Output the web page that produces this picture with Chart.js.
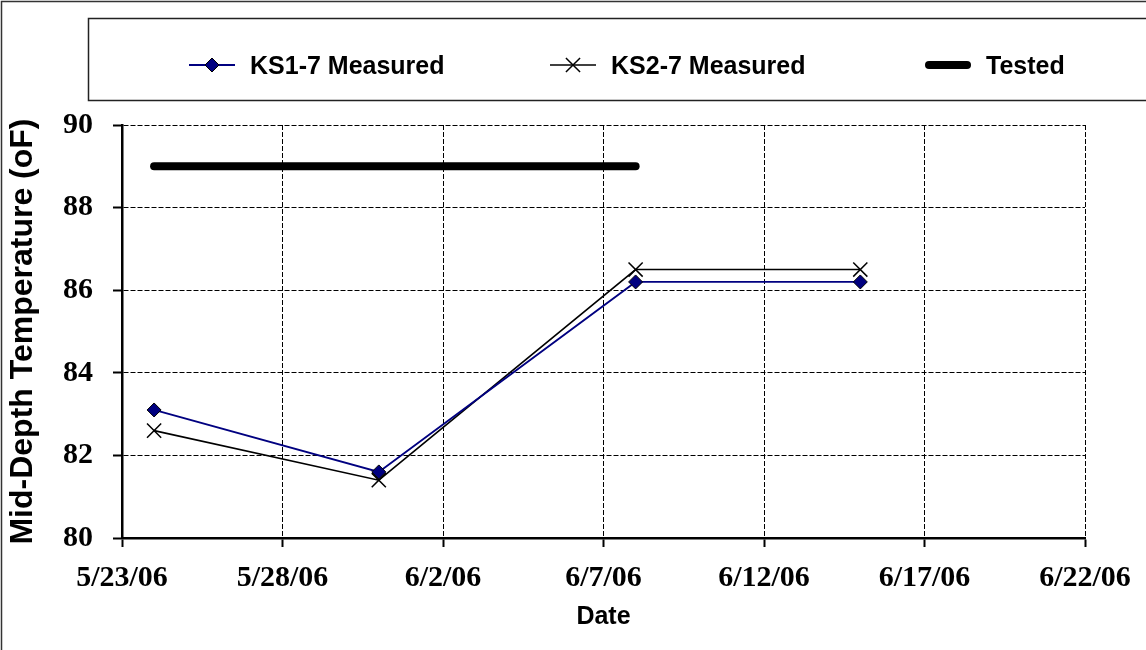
<!DOCTYPE html>
<html><head><meta charset="utf-8">
<script src="https://cdn.jsdelivr.net/npm/chart.js@4/dist/chart.umd.min.js"></script>
<style>html,body{margin:0;padding:0;background:#fff;overflow:hidden}#wrap{width:1146px;height:650px}</style>
</head><body>
<div id="wrap"><canvas id="c" width="1146" height="650"></canvas></div>
<script>
// ---- data ----
const baseDate = '5/23/06';
const seriesNames = ['KS1-7 Measured', 'KS2-7 Measured', 'Tested'];
const measuredDates = ['5/24/06', '5/31/06', '6/8/06', '6/15/06'];
const ks1Measured = [83.1, 81.6, 86.2, 86.2];
const ks2Measured = [82.6, 81.4, 86.5, 86.5];
const testedDates = ['5/24/06', '6/8/06'];
const testedValues = [89, 89];
const xTickDates = ['5/23/06','5/28/06','6/2/06','6/7/06','6/12/06','6/17/06','6/22/06'];
const yTickValues = [80, 82, 84, 86, 88, 90];
const xTitle = 'Date';
const yTitle = 'Mid-Depth Temperature (oF)';

// ---- helpers ----
function dayNum(s){const p=s.split('/').map(Number);return Date.UTC(2000+p[2],p[0]-1,p[1])/86400000;}
const base = dayNum(baseDate);
const toX = s => dayNum(s) - base;
const xTickVals = xTickDates.map(toX);
function fmtDay(v){const d=new Date((base+v)*86400000);return (d.getUTCMonth()+1)+'/'+d.getUTCDate()+'/'+String(d.getUTCFullYear()).slice(2);}
const pts = (ds, vs) => ds.map((d,i)=>({x:toX(d), y:vs[i]}));

const sansBold = (s)=>({family:'"Liberation Sans", Arial, sans-serif', size:s, weight:'bold'});
const serifBold = (s)=>({family:'"Liberation Serif", "Times New Roman", serif', size:s, weight:'bold'});

const bgPlugin = {
  id:'bg',
  beforeDraw(chart){const c=chart.ctx;c.save();c.fillStyle='#fff';c.fillRect(0,0,chart.width,chart.height);c.restore();}
};

const legendPlugin = {
  id:'customLegend',
  afterDraw(chart){
    const c = chart.ctx;
    c.save();
    // outer frame
    c.strokeStyle = '#333'; c.lineWidth = 1.5;
    c.strokeRect(1.5, 1.5, 1160, 670);
    // legend box
    c.strokeStyle = '#222'; c.lineWidth = 1.5;
    c.strokeRect(88.5, 18.5, 1100, 82);
    const starts = [189, 550, 925];
    const sampleLen = 46;
    const yMid = 65;
    chart.data.datasets.forEach((ds, i) => {
      const x0 = starts[i], x1 = x0 + sampleLen, xm = (x0 + x1) / 2;
      c.beginPath();
      c.lineCap = ds.borderCapStyle || 'butt';
      c.strokeStyle = ds.borderColor; c.lineWidth = ds.borderWidth;
      c.moveTo(x0 + (ds.borderCapStyle==='round'?ds.borderWidth/2:0), yMid);
      c.lineTo(x1 - (ds.borderCapStyle==='round'?ds.borderWidth/2:0), yMid);
      c.stroke();
      c.lineCap = 'butt';
      if (ds.pointStyle === 'rectRot') {
        const r = ds.pointRadius;
        c.beginPath();
        c.moveTo(xm - r, yMid); c.lineTo(xm, yMid - r); c.lineTo(xm + r, yMid); c.lineTo(xm, yMid + r); c.closePath();
        c.fillStyle = ds.pointBackgroundColor; c.fill();
        c.strokeStyle = ds.pointBorderColor; c.lineWidth = ds.pointBorderWidth; c.stroke();
      } else if (ds.pointStyle === 'crossRot') {
        const r = ds.pointRadius * Math.SQRT1_2;
        c.beginPath();
        c.moveTo(xm - r, yMid - r); c.lineTo(xm + r, yMid + r);
        c.moveTo(xm - r, yMid + r); c.lineTo(xm + r, yMid - r);
        c.strokeStyle = ds.pointBorderColor; c.lineWidth = ds.pointBorderWidth; c.stroke();
      }
      c.fillStyle = '#000';
      c.font = 'bold 25px "Liberation Sans", Arial, sans-serif';
      c.textBaseline = 'middle'; c.textAlign = 'left';
      c.fillText(ds.label, x1 + 15, yMid + 2);
    });
    c.restore();
  }
};

new Chart(document.getElementById('c'), {
  type: 'line',
  data: {
    datasets: [
      {
        label: seriesNames[0], data: pts(measuredDates, ks1Measured),
        borderColor: '#000080', borderWidth: 1.8,
        pointStyle: 'rectRot', pointRadius: 7, pointBackgroundColor: '#000080',
        pointBorderColor: '#000', pointBorderWidth: 1, tension: 0
      },
      {
        label: seriesNames[1], data: pts(measuredDates, ks2Measured),
        borderColor: '#000', borderWidth: 1.6,
        pointStyle: 'crossRot', pointRadius: 10, pointBackgroundColor: '#000',
        pointBorderColor: '#000', pointBorderWidth: 1.5, tension: 0
      },
      {
        label: seriesNames[2], data: pts(testedDates, testedValues),
        borderColor: '#000', borderWidth: 8, borderCapStyle: 'round',
        pointRadius: 0, tension: 0
      }
    ]
  },
  options: {
    responsive: false, animation: false, devicePixelRatio: 1,
    layout: { padding: { top: 125, right: 61, left: 0, bottom: 0 } },
    plugins: { legend: { display: false }, tooltip: { enabled: false } },
    scales: {
      x: {
        type: 'linear', min: xTickVals[0], max: xTickVals[xTickVals.length-1],
        afterBuildTicks(s){ s.ticks = xTickVals.map(v=>({value:v})); },
        afterFit(s){ s.height = 112; },
        ticks: { callback: v => fmtDay(v), font: serifBold(30), color: '#000', padding: 13, maxRotation: 0, autoSkip: false },
        grid: { color: '#000', lineWidth: 1, tickLength: 9, tickWidth: 2, tickColor: '#000', tickBorderDash: [] },
        border: { display: true, color: '#000', width: 2.5, dash: [5, 2] },
        title: { display: true, text: xTitle, font: sansBold(25), color: '#000', padding: { top: 0, bottom: 18 } }
      },
      y: {
        type: 'linear', min: yTickValues[0], max: yTickValues[yTickValues.length-1],
        afterBuildTicks(s){ s.ticks = yTickValues.map(v=>({value:v})); },
        afterFit(s){ s.width = 122; },
        ticks: { font: serifBold(30), color: '#000', padding: 20 },
        grid: { color: '#000', lineWidth: 1, tickLength: 9, tickWidth: 2, tickColor: '#000', tickBorderDash: [] },
        border: { display: true, color: '#000', width: 2.5, dash: [5, 2] },
        title: { display: true, text: yTitle, font: sansBold(32), color: '#000', padding: { top: 4, bottom: 0 } }
      }
    }
  },
  plugins: [bgPlugin, legendPlugin]
});
</script>
</body></html>
